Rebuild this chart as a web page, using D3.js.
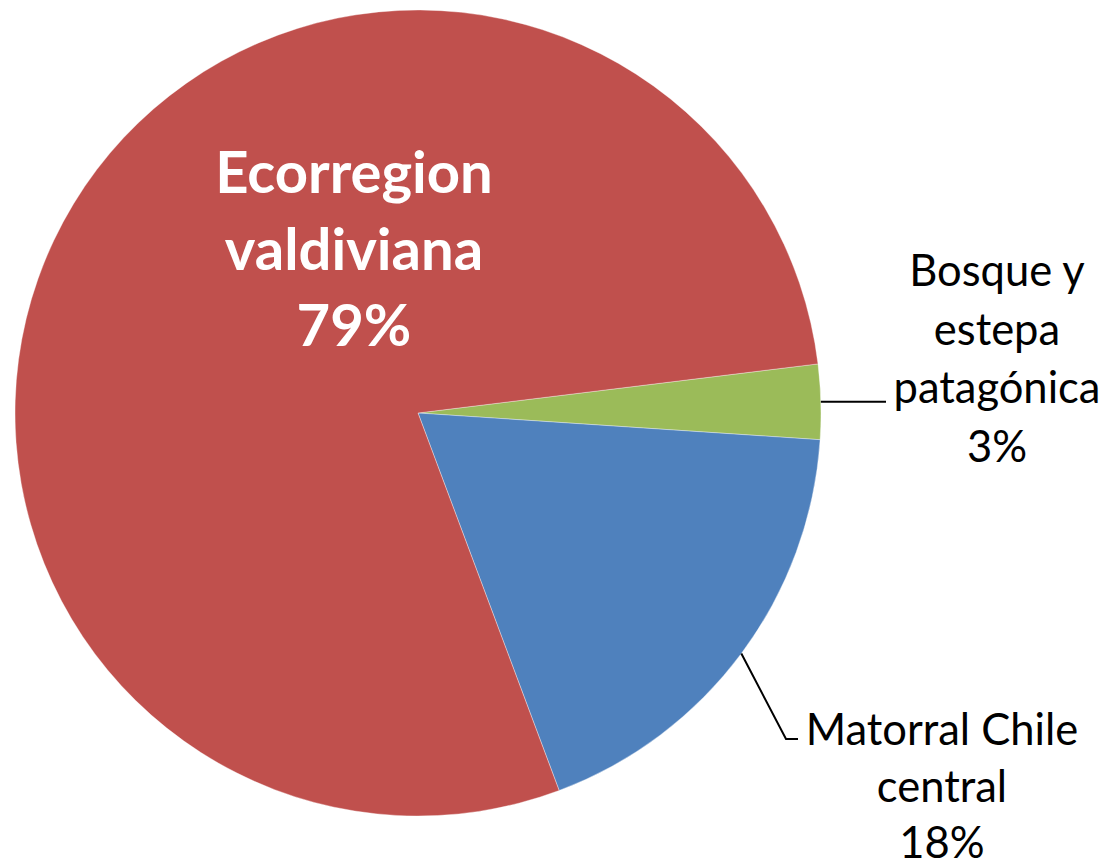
<!DOCTYPE html>
<html>
<head>
<meta charset="utf-8">
<script src="https://cdn.jsdelivr.net/npm/d3@7"></script>
<style>
  html, body { margin: 0; padding: 0; background: #fff; }
  svg { display: block; }
</style>
</head>
<body>
<script>
// chart data
var categories = ["Bosque y estepa patagónica", "Matorral Chile central", "Ecorregion valdiviana"];
var values = [3.0, 18.25, 78.75];
var labelLines = [["Bosque y", "estepa", "patagónica"], ["Matorral Chile", "central"], ["Ecorregion", "valdiviana"]];
var colors = ["#9BBB59", "#4F81BD", "#C0504D"];

var width = 1108, height = 867;
var cx = 418, cy = 413, radius = 403;
var firstAngle = 83 * Math.PI / 180;

var svg = d3.select("body").append("svg")
  .attr("width", width)
  .attr("height", height);

var g = svg.append("g").attr("transform", "translate(" + cx + "," + cy + ")");

var total = d3.sum(values);
var pie = d3.pie().sort(null).startAngle(firstAngle).endAngle(firstAngle + 2 * Math.PI);
var arcs = pie(values);

var arc = d3.arc().innerRadius(0).outerRadius(radius);
var edge = d3.arc().innerRadius(radius).outerRadius(radius);

g.selectAll("path.slice")
  .data(arcs)
  .enter()
  .append("path")
  .attr("class", "slice")
  .attr("d", arc)
  .attr("fill", function(d, i) { return colors[i]; })
  .attr("stroke", "#fff")
  .attr("stroke-width", 0.6)
  .attr("stroke-opacity", 0.6);

function pct(i) { return Math.round(values[i] / total * 100) + "%"; }

// label positions (relative to pie centre)
var labelPos = [
  { x: 579, y: -127, size: 43.5, lh: 58.7, bold: false, fill: "#000" },
  { x: 524, y: 332, size: 43.5, lh: 56.5, bold: false, fill: "#000" },
  { x: -64, y: -220, size: 58, lh: 76.5, bold: true, fill: "#fff" }
];

arcs.forEach(function(d, i) {
  var p = labelPos[i];
  var t = g.append("text")
    .attr("text-anchor", "middle")
    .attr("font-family", "Lato, 'Open Sans', sans-serif")
    .attr("font-size", p.size)
    .attr("font-weight", p.bold ? "bold" : "normal")
    .attr("fill", p.fill);
  var lines = labelLines[i].concat([pct(i)]);
  lines.forEach(function(s, k) {
    t.append("tspan")
      .attr("x", p.x)
      .attr("y", p.y + k * p.lh)
      .text(s);
  });
});

// leader lines from the slice edge
var c0 = edge.centroid(arcs[0]);
g.append("path")
  .attr("d", d3.line()([c0, [468, c0[1]]]))
  .attr("fill", "none")
  .attr("stroke", "#000")
  .attr("stroke-width", 2);

var c1 = edge.centroid(arcs[1]);
g.append("path")
  .attr("d", d3.line()([c1, [368, 326], [380, 326]]))
  .attr("fill", "none")
  .attr("stroke", "#000")
  .attr("stroke-width", 2);
</script>
</body>
</html>
